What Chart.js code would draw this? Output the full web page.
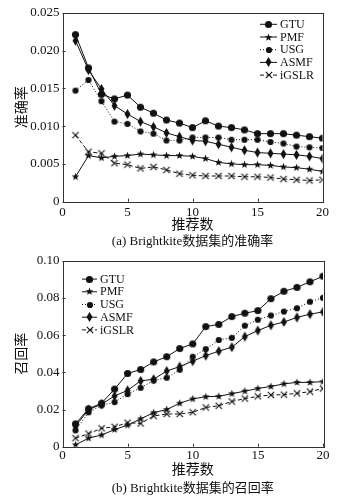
<!DOCTYPE html>
<html>
<head>
<meta charset="utf-8">
<script src="https://cdn.jsdelivr.net/npm/chart.js@4.4.0/dist/chart.umd.min.js"></script>
<style>
  html, body { margin: 0; padding: 0; background: #fff; }
  #wrap { position: relative; width: 357px; height: 501px; }
  .box { position: absolute; left: 0; width: 357px; }
</style>
</head>
<body>
<div id="wrap">
  <div class="box" style="top:0;height:250px"><canvas id="grafico-precisao" width="357" height="250"></canvas></div>
  <div class="box" style="top:250px;height:251px"><canvas id="grafico-recall" width="357" height="251"></canvas></div>
</div>
<script>
// numero de recomendacoes (eixo x)
const recNum = [1, 2, 3, 4, 5, 6, 7, 8, 9, 10, 11, 12, 13, 14, 15, 16, 17, 18, 19, 20];
const seriesNames = ["GTU", "PMF", "USG", "ASMF", "iGSLR"];

// (a) precisao
const precGTU = [0.0221, 0.0177, 0.0142, 0.0136, 0.0141, 0.0125, 0.0117, 0.0108, 0.0104, 0.0098, 0.0107, 0.0100, 0.0098, 0.0095, 0.0090, 0.0090, 0.0090, 0.0088, 0.0086, 0.0084];
const precPMF = [0.0033, 0.0061, 0.0058, 0.0060, 0.0061, 0.0063, 0.0062, 0.0061, 0.0061, 0.0060, 0.0057, 0.0052, 0.0050, 0.0049, 0.0049, 0.0048, 0.0046, 0.0045, 0.0043, 0.0040];
const precUSG = [0.0147, 0.0161, 0.0133, 0.0106, 0.0103, 0.0093, 0.0090, 0.0081, 0.0081, 0.0085, 0.0085, 0.0085, 0.0082, 0.0082, 0.0082, 0.0079, 0.0077, 0.0073, 0.0072, 0.0071];
const precASMF = [0.0213, 0.0174, 0.0149, 0.0127, 0.0116, 0.0106, 0.0099, 0.0091, 0.0086, 0.0081, 0.0080, 0.0076, 0.0072, 0.0068, 0.0065, 0.0064, 0.0063, 0.0062, 0.0060, 0.0057];
const precIGSLR = [0.0088, 0.0066, 0.0064, 0.0051, 0.0049, 0.0044, 0.0046, 0.0042, 0.0037, 0.0035, 0.0034, 0.0034, 0.0034, 0.0033, 0.0033, 0.0032, 0.0030, 0.0029, 0.0028, 0.0029];

// (b) recall
const recGTU = [0.0123, 0.0204, 0.0234, 0.0310, 0.0394, 0.0415, 0.0456, 0.0484, 0.0528, 0.0553, 0.0646, 0.0658, 0.0700, 0.0718, 0.0732, 0.0796, 0.0836, 0.0857, 0.0887, 0.0917];
const recPMF = [0.0010, 0.0046, 0.0063, 0.0092, 0.0116, 0.0150, 0.0183, 0.0200, 0.0234, 0.0257, 0.0269, 0.0271, 0.0285, 0.0299, 0.0313, 0.0324, 0.0338, 0.0346, 0.0346, 0.0350];
const recUSG = [0.0088, 0.0185, 0.0222, 0.0240, 0.0283, 0.0317, 0.0356, 0.0371, 0.0414, 0.0484, 0.0525, 0.0574, 0.0586, 0.0651, 0.0683, 0.0706, 0.0727, 0.0745, 0.0780, 0.0801];
const recASMF = [0.0111, 0.0199, 0.0229, 0.0273, 0.0303, 0.0354, 0.0363, 0.0407, 0.0431, 0.0460, 0.0490, 0.0514, 0.0535, 0.0592, 0.0625, 0.0653, 0.0671, 0.0695, 0.0713, 0.0725];
const recIGSLR = [0.0046, 0.0070, 0.0099, 0.0107, 0.0129, 0.0125, 0.0165, 0.0176, 0.0176, 0.0185, 0.0211, 0.0220, 0.0243, 0.0259, 0.0271, 0.0278, 0.0280, 0.0287, 0.0296, 0.0313];

const xTicks = [0, 5, 10, 15, 20];
const precTicks = [0, 0.005, 0.010, 0.015, 0.020, 0.025];
const recTicks = [0, 0.02, 0.04, 0.06, 0.08, 0.10];

const FONT = "'Liberation Serif', 'Noto Sans CJK SC', serif";
const INK = "#111";

// marcadores desenhados em canvas
function marker(kind, r) {
  const c = document.createElement("canvas");
  const w = Math.ceil(r * 2 + 3);
  const h = kind === "diamond" ? Math.ceil(r * 3.4 + 3) : w;
  c.width = w; c.height = h;
  const ctx = c.getContext("2d");
  const cx = w / 2, cy = h / 2;
  ctx.fillStyle = INK; ctx.strokeStyle = INK;
  if (kind === "circle") {
    ctx.beginPath(); ctx.arc(cx, cy, r, 0, Math.PI * 2); ctx.fill();
  } else if (kind === "star") {
    ctx.beginPath();
    for (let k = 0; k < 10; k++) {
      const rr = k % 2 === 0 ? r : r * 0.42;
      const ang = -Math.PI / 2 + k * Math.PI / 5;
      const px = cx + rr * Math.cos(ang), py = cy + rr * Math.sin(ang);
      if (k === 0) ctx.moveTo(px, py); else ctx.lineTo(px, py);
    }
    ctx.closePath(); ctx.fill();
  } else if (kind === "diamond") {
    ctx.beginPath();
    ctx.moveTo(cx, cy - r * 1.7); ctx.lineTo(cx + r, cy);
    ctx.lineTo(cx, cy + r * 1.7); ctx.lineTo(cx - r, cy);
    ctx.closePath(); ctx.fill();
  } else if (kind === "cross") {
    ctx.lineWidth = 1.1;
    ctx.beginPath();
    ctx.moveTo(cx - r, cy - r); ctx.lineTo(cx + r, cy + r);
    ctx.moveTo(cx + r, cy - r); ctx.lineTo(cx - r, cy + r);
    ctx.stroke();
  }
  return c;
}

const styles = [
  { pointStyle: marker("circle", 3.6), borderDash: [] },
  { pointStyle: marker("star", 4), borderDash: [] },
  { pointStyle: marker("circle", 3.1), borderDash: [1, 2] },
  { pointStyle: marker("diamond", 3), borderDash: [] },
  { pointStyle: marker("cross", 3.2), borderDash: [4, 2.5] }
];

function makeDatasets(series) {
  return series.map((vals, i) => ({
    label: seriesNames[i],
    data: recNum.map((x, j) => ({ x: x, y: vals[j] })),
    borderColor: INK,
    borderWidth: 1,
    borderDash: styles[i].borderDash,
    pointStyle: styles[i].pointStyle,
    pointRadius: 4,
    fill: false,
    tension: 0
  }));
}

// moldura + ticks para dentro
const framePlugin = {
  id: "frame",
  afterDraw(chart) {
    const ctx = chart.ctx, a = chart.chartArea;
    const xs = chart.scales.x, ys = chart.scales.y;
    ctx.save();
    ctx.strokeStyle = "#333";
    ctx.lineWidth = 1;
    ctx.strokeRect(Math.round(a.left) + 0.5, Math.round(a.top) + 0.5, Math.round(a.right - a.left), Math.round(a.bottom - a.top));
    ctx.beginPath();
    xs.ticks.forEach(t => {
      const px = Math.round(xs.getPixelForValue(t.value)) + 0.5;
      ctx.moveTo(px, a.bottom); ctx.lineTo(px, a.bottom - 3);
    });
    ys.ticks.forEach(t => {
      const py = Math.round(ys.getPixelForValue(t.value)) + 0.5;
      ctx.moveTo(a.left, py); ctx.lineTo(a.left + 3, py);
    });
    ctx.stroke();
    ctx.restore();
  }
};

// legenda com linha + marcador, e legenda da figura
const legendPlugin = {
  id: "lineLegend",
  afterDraw(chart, args, opts) {
    const ctx = chart.ctx, a = chart.chartArea;
    ctx.save();
    ctx.font = opts.size + "px " + FONT;
    ctx.textBaseline = "middle";
    ctx.fillStyle = INK;
    chart.data.datasets.forEach((ds, i) => {
      const y = a.top + opts.top + i * opts.gap;
      const x0 = a.left + opts.left;
      ctx.strokeStyle = ds.borderColor;
      ctx.lineWidth = ds.borderWidth;
      ctx.setLineDash(ds.borderDash || []);
      ctx.beginPath(); ctx.moveTo(x0, y); ctx.lineTo(x0 + opts.len, y); ctx.stroke();
      ctx.setLineDash([]);
      const img = ds.pointStyle;
      ctx.drawImage(img, Math.round(x0 + opts.len / 2 - img.width / 2), Math.round(y - img.height / 2));
      ctx.fillText(ds.label, x0 + opts.len + 3, y + 0.5);
    });
    // legenda (a)/(b) centrada na area do grafico
    ctx.font = "13px " + FONT;
    ctx.textAlign = "center";
    ctx.fillText(opts.caption, (a.left + a.right) / 2, opts.capY);
    ctx.restore();
  }
};

function makeChart(id, cfg) {
  return new Chart(document.getElementById(id), {
    type: "line",
    data: { datasets: makeDatasets(cfg.series) },
    plugins: [framePlugin, legendPlugin],
    options: {
      responsive: false,
      animation: false,
      devicePixelRatio: 1,
      layout: { padding: { top: cfg.padTop, right: 357 - cfg.right, bottom: cfg.padBottom, left: 0 } },
      plugins: {
        legend: { display: false },
        tooltip: { enabled: false },
        title: { display: false },
        lineLegend: cfg.legend
      },
      scales: {
        x: {
          type: "linear", min: 0, max: 20,
          afterBuildTicks: s => { s.ticks = xTicks.map(v => ({ value: v })); },
          afterFit: s => { s.height = cfg.xHeight; },
          grid: { display: false, drawTicks: false },
          border: { display: false },
          ticks: { color: INK, padding: cfg.xTickPad, font: { family: FONT, size: 13 }, maxRotation: 0 },
          title: { display: true, text: "推荐数", color: INK, font: { family: FONT, size: 14 }, padding: { top: 0, bottom: 0 } }
        },
        y: {
          min: 0, max: cfg.yMax,
          afterBuildTicks: s => { s.ticks = cfg.yTicks.map(v => ({ value: v })); },
          afterFit: s => { s.width = 62.5; },
          grid: { display: false, drawTicks: false },
          border: { display: false },
          ticks: { color: INK, padding: 3, font: { family: FONT, size: 13 }, callback: v => v === 0 ? "0" : v.toFixed(cfg.dec) },
          title: { display: true, text: cfg.yTitle, color: INK, font: { family: FONT, size: 14 }, padding: { top: 13.5, bottom: 0 } }
        }
      }
    }
  });
}

makeChart("grafico-precisao", {
  series: [precGTU, precPMF, precUSG, precASMF, precIGSLR],
  yTitle: "准确率", yMax: 0.025, yTicks: precTicks, dec: 3,
  right: 322.5, padTop: 12.7, padBottom: 16.6, xHeight: 31.7, xTickPad: 3,
  legend: { left: 197.5, top: 11.6, gap: 12.7, len: 17, size: 12,
            caption: "(a) Brightkite数据集的准确率", capY: 242 }
});

makeChart("grafico-recall", {
  series: [recGTU, recPMF, recUSG, recASMF, recIGSLR],
  yTitle: "召回率", yMax: 0.1, yTicks: recTicks, dec: 2,
  right: 323, padTop: 6.7, padBottom: 22.6, xHeight: 31.7, xTickPad: 1.5,
  legend: { left: 19.5, top: 18.3, gap: 12.7, len: 15, size: 12,
            caption: "(b) Brightkite数据集的召回率", capY: 238.5 }
});
</script>
</body>
</html>
